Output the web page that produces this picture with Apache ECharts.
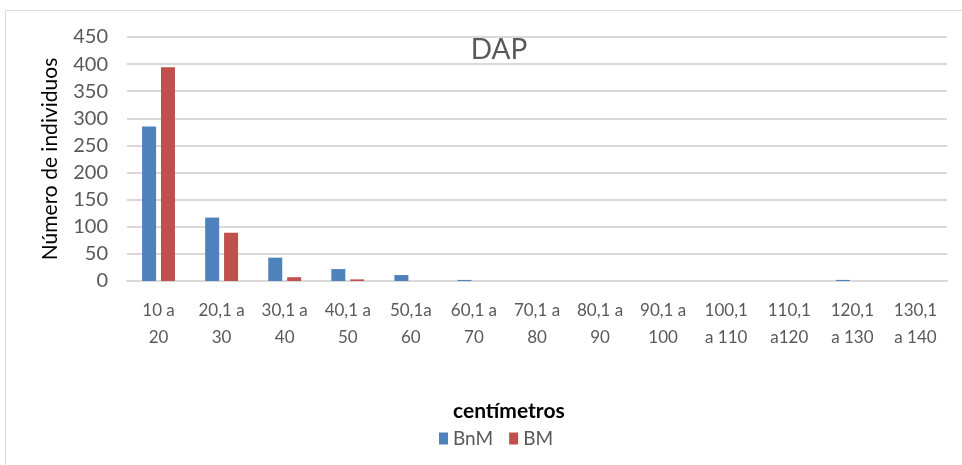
<!DOCTYPE html>
<html><head><meta charset="utf-8">
<script src="https://cdn.jsdelivr.net/npm/echarts@6/dist/echarts.min.js"></script>
<style>html,body{margin:0;padding:0;background:#fff;}#c{width:962px;height:465px;}</style>
</head><body><div id="c"></div>
<script>
const categories = ['10 a\n20','20,1 a\n30','30,1 a\n40','40,1 a\n50','50,1a\n60','60,1 a\n70','70,1 a\n80','80,1 a\n90','90,1 a\n100','100,1\na 110','110,1\na120','120,1\na 130','130,1\na 140'];
const bnm = [285, 117, 43, 22, 11, 2, 0, 0, 0, 0, 0, 2, 0];
const bm = [394, 89, 7, 3, 0, 0, 0, 0, 0, 0, 0, 0, 0];
const yTicks = [0, 450, 50];
const chart = echarts.init(document.getElementById('c'));
const font = 'Lato, "Open Sans", sans-serif';
chart.setOption({
  animation: false,
  textStyle: {fontFamily: font},
  title: {text: 'DAP', left: 494, top: 31, textAlign: 'center', textStyle: {fontSize: 28, fontWeight: 'normal', color: '#595959', fontFamily: font}},
  graphic: [
    {type: 'rect', shape: {x: 5.5, y: 10.5, width: 990, height: 500}, style: {fill: 'none', stroke: '#d9d9d9', lineWidth: 1}, silent: true},
    {type: 'text', left: 453, top: 401, style: {text: 'centímetros', fontSize: 21, fontWeight: 'bold', fill: '#000', fontFamily: font}, silent: true}
  ],
  legend: {top: 424, left: 434, itemWidth: 9, itemHeight: 12, itemGap: 16, icon: 'rect',
    textStyle: {fontSize: 19, color: '#595959', fontFamily: font}},
  grid: {left: 127, right: 15, top: 37, bottom: 184},
  xAxis: {type: 'category', data: categories,
    axisTick: {show: false},
    axisLine: {lineStyle: {color: '#d9d9d9', width: 2}},
    axisLabel: {interval: 0, fontSize: 17, color: '#595959', lineHeight: 27, margin: 16, fontFamily: font}},
  yAxis: {type: 'value', min: yTicks[0], max: yTicks[1], interval: yTicks[2],
    name: 'Número de individuos', nameLocation: 'middle', nameGap: 66,
    nameTextStyle: {fontSize: 21, color: '#000', fontFamily: font},
    axisLine: {show: false}, axisTick: {show: false},
    splitLine: {lineStyle: {color: '#d9d9d9', width: 2}},
    axisLabel: {fontSize: 20, color: '#595959', margin: 19, fontFamily: font}},
  series: [
    {name: 'BnM', type: 'bar', data: bnm, barWidth: 14, barGap: '35%', itemStyle: {color: '#4f81bd'}},
    {name: 'BM', type: 'bar', data: bm, barWidth: 14, itemStyle: {color: '#c0504d'}}
  ]
});
</script></body></html>
